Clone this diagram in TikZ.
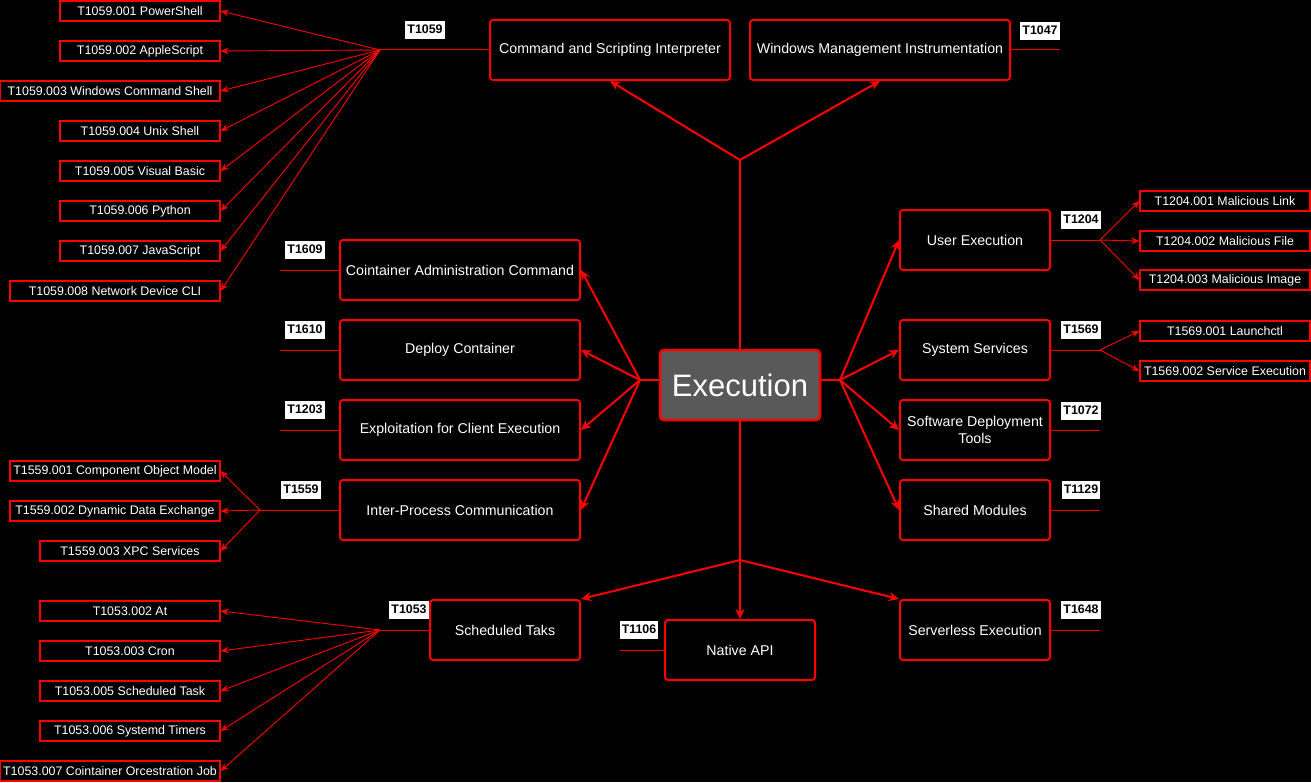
\documentclass[tikz,border=0pt]{standalone}
\usepackage{fontspec}
\setmainfont{Liberation Sans}
\usetikzlibrary{arrows.meta}
\definecolor{rootgray}{HTML}{595959}
\tikzset{
	rootbox/.style={draw=red, line width=2.5bp, rounded corners=4bp, fill=rootgray, text=white, minimum width=160bp, minimum height=70bp, font=\fontsize{31bp}{36bp}\selectfont},
	mainbox/.style={draw=red, line width=2bp, rounded corners=3bp, fill=black, text=white, align=center, minimum height=60bp, inner sep=2bp, font=\fontsize{14.2bp}{17bp}\selectfont},
	leafbox/.style={draw=red, line width=1.2bp, fill=black, text=white, minimum height=20bp, inner sep=0pt, font=\fontsize{12.4bp}{14bp}\selectfont},
	codelabel/.style={fill=white, text=black, inner xsep=2bp, inner ysep=2.5bp, text height=10bp, text depth=3bp, font=\fontsize{12.4bp}{14bp}\selectfont\bfseries},
	trunk/.style={draw=red, line width=2bp},
	branch/.style={trunk, -{Stealth[length=10bp, width=9bp]}},
	stub/.style={draw=red, line width=1bp},
	twig/.style={draw=red, line width=0.9bp, -{Stealth[length=8bp, width=6.5bp]}}
}
\begin{document}
\begin{tikzpicture}[x=1bp, y=-1bp]
	\fill[black] (0,0) rectangle (1311,782);
	\useasboundingbox (0,0) rectangle (1311,782);

	\node[rootbox]                            (exec)       at (740,385) {Execution};
	\node[mainbox, minimum width=240bp]       (csi)        at (610,50)  {Command and Scripting Interpreter};
	\node[mainbox, minimum width=260bp]       (wmi)        at (880,50)  {Windows Management Instrumentation};
	\node[mainbox, minimum width=240bp]       (cac)        at (460,270) {Cointainer Administration Command};
	\node[mainbox, minimum width=240bp]       (deploy)     at (460,350) {Deploy Container};
	\node[mainbox, minimum width=240bp]       (exploit)    at (460,430) {Exploitation for Client Execution};
	\node[mainbox, minimum width=240bp]       (ipc)        at (460,510) {Inter-Process Communication};
	\node[mainbox, minimum width=150bp]       (user)       at (975,240) {User Execution};
	\node[mainbox, minimum width=150bp]       (sysserv)    at (975,350) {System Services};
	\node[mainbox, minimum width=150bp]       (sdt)        at (975,430) {Software Deployment\\Tools};
	\node[mainbox, minimum width=150bp]       (shared)     at (975,510) {Shared Modules};
	\node[mainbox, minimum width=150bp]       (serverless) at (975,630) {Serverless Execution};
	\node[mainbox, minimum width=150bp]       (sched)      at (505,630) {Scheduled Taks};
	\node[mainbox, minimum width=150bp]       (native)     at (740,650) {Native API};

	\node[leafbox, minimum width=160bp]       (p001)       at (140,11)  {T1059.001 PowerShell};
	\node[leafbox, minimum width=160bp]       (p002)       at (140,51)  {T1059.002 AppleScript};
	\node[leafbox, minimum width=220bp]       (p003)       at (110,91)  {T1059.003 Windows Command Shell};
	\node[leafbox, minimum width=160bp]       (p004)       at (140,131) {T1059.004 Unix Shell};
	\node[leafbox, minimum width=160bp]       (p005)       at (140,171) {T1059.005 Visual Basic};
	\node[leafbox, minimum width=160bp]       (p006)       at (140,211) {T1059.006 Python};
	\node[leafbox, minimum width=160bp]       (p007)       at (140,251) {T1059.007 JavaScript};
	\node[leafbox, minimum width=210bp]       (p008)       at (115,291) {T1059.008 Network Device CLI};
	\node[leafbox, minimum width=210bp]       (i001)       at (115,471) {T1559.001 Component Object Model};
	\node[leafbox, minimum width=210bp]       (i002)       at (115,511) {T1559.002 Dynamic Data Exchange};
	\node[leafbox, minimum width=180bp]       (i003)       at (130,551) {T1559.003 XPC Services};
	\node[leafbox, minimum width=180bp]       (s002)       at (130,611) {T1053.002 At};
	\node[leafbox, minimum width=180bp]       (s003)       at (130,651) {T1053.003 Cron};
	\node[leafbox, minimum width=180bp]       (s005)       at (130,691) {T1053.005 Scheduled Task};
	\node[leafbox, minimum width=180bp]       (s006)       at (130,731) {T1053.006 Systemd Timers};
	\node[leafbox, minimum width=220bp]       (s007)       at (110,771) {T1053.007 Cointainer Orcestration Job};
	\node[leafbox, minimum width=170bp]       (u001)       at (1225,201) {T1204.001 Malicious Link};
	\node[leafbox, minimum width=170bp]       (u002)       at (1225,241) {T1204.002 Malicious File};
	\node[leafbox, minimum width=170bp]       (u003)       at (1225,280) {T1204.003 Malicious Image};
	\node[leafbox, minimum width=170bp]       (v001)       at (1225,331) {T1569.001 Launchctl};
	\node[leafbox, minimum width=170bp]       (v002)       at (1225,371) {T1569.002 Service Execution};

	\node[codelabel] (c1059) at (425,30)   {T1059};
	\node[codelabel] (c1047) at (1040,31)  {T1047};
	\node[codelabel] (c1609) at (305,250)  {T1609};
	\node[codelabel] (c1610) at (305,330)  {T1610};
	\node[codelabel] (c1203) at (305,410)  {T1203};
	\node[codelabel] (c1559) at (301,490)  {T1559};
	\node[codelabel] (c1204) at (1081,220) {T1204};
	\node[codelabel] (c1569) at (1081,330) {T1569};
	\node[codelabel] (c1072) at (1081,411) {T1072};
	\node[codelabel] (c1129) at (1081,490) {T1129};
	\node[codelabel] (c1648) at (1081,610) {T1648};
	\node[codelabel] (c1053) at (409,610)  {T1053};
	\node[codelabel] (c1106) at (639,630)  {T1106};

	\coordinate (jtop)    at (740,160);
	\coordinate (jleft)   at (640,380);
	\coordinate (jright)  at (840,380);
	\coordinate (jbottom) at (740,560);
	\coordinate (j1059)   at (380,50);
	\coordinate (j1559)   at (260,510);
	\coordinate (j1053)   at (380,630);
	\coordinate (j1204)   at (1100,240);
	\coordinate (j1569)   at (1100,350);
	\coordinate (e1047)   at (1060,50);
	\coordinate (e1609)   at (280,270);
	\coordinate (e1610)   at (280,350);
	\coordinate (e1203)   at (280,430);
	\coordinate (e1072)   at (1100,430);
	\coordinate (e1129)   at (1100,510);
	\coordinate (e1648)   at (1100,630);
	\coordinate (e1106)   at (620,650);

	\draw[trunk]  (exec.north) -- (jtop);
	\draw[branch] (jtop) -- (csi.south);
	\draw[branch] (jtop) -- (wmi.south);
	\draw[trunk]  (exec.west |- jleft) -- (jleft);
	\draw[branch] (jleft) -- (cac.east);
	\draw[branch] (jleft) -- (deploy.east);
	\draw[branch] (jleft) -- (exploit.east);
	\draw[branch] (jleft) -- (ipc.east);
	\draw[trunk]  (exec.east |- jright) -- (jright);
	\draw[branch] (jright) -- (user.west);
	\draw[branch] (jright) -- (sysserv.west);
	\draw[branch] (jright) -- (sdt.west);
	\draw[branch] (jright) -- (shared.west);
	\draw[trunk]  (exec.south) -- (jbottom);
	\draw[branch] (jbottom) -- (sched.north east);
	\draw[branch] (jbottom) -- (native.north);
	\draw[branch] (jbottom) -- (serverless.north west);

	\draw[stub] (csi.west) -- (j1059);
	\draw[stub] (wmi.east) -- (e1047);
	\draw[stub] (cac.west) -- (e1609);
	\draw[stub] (deploy.west) -- (e1610);
	\draw[stub] (exploit.west) -- (e1203);
	\draw[stub] (ipc.west) -- (j1559);
	\draw[stub] (user.east) -- (j1204);
	\draw[stub] (sysserv.east) -- (j1569);
	\draw[stub] (sdt.east) -- (e1072);
	\draw[stub] (shared.east) -- (e1129);
	\draw[stub] (serverless.east) -- (e1648);
	\draw[stub] (sched.west) -- (j1053);
	\draw[stub] (native.west) -- (e1106);

	\draw[twig] (j1059) -- (p001.east);
	\draw[twig] (j1059) -- (p002.east);
	\draw[twig] (j1059) -- (p003.east);
	\draw[twig] (j1059) -- (p004.east);
	\draw[twig] (j1059) -- (p005.east);
	\draw[twig] (j1059) -- (p006.east);
	\draw[twig] (j1059) -- (p007.east);
	\draw[twig] (j1059) -- (p008.east);
	\draw[twig] (j1559) -- (i001.east);
	\draw[twig] (j1559) -- (i002.east);
	\draw[twig] (j1559) -- (i003.east);
	\draw[twig] (j1053) -- (s002.east);
	\draw[twig] (j1053) -- (s003.east);
	\draw[twig] (j1053) -- (s005.east);
	\draw[twig] (j1053) -- (s006.east);
	\draw[twig] (j1053) -- (s007.east);
	\draw[twig] (j1204) -- (u001.west);
	\draw[twig] (j1204) -- (u002.west);
	\draw[twig] (j1204) -- (u003.west);
	\draw[twig] (j1569) -- (v001.west);
	\draw[twig] (j1569) -- (v002.west);
\end{tikzpicture}
\end{document}
